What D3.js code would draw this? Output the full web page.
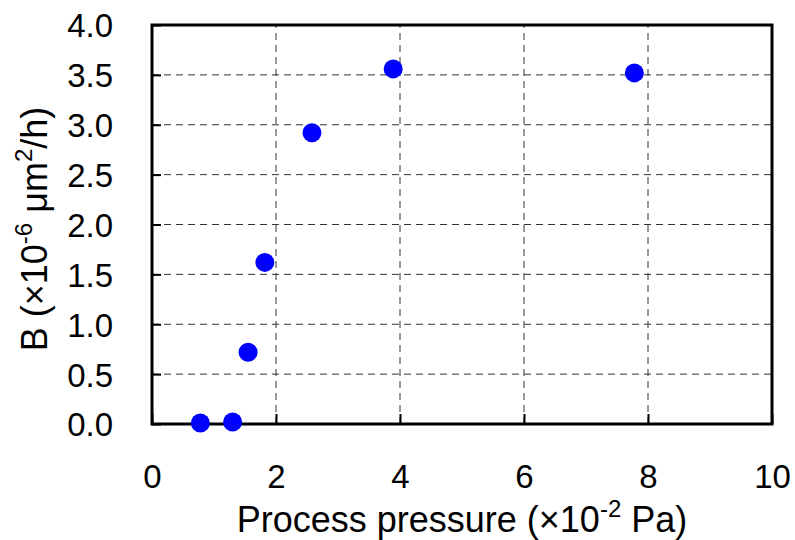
<!DOCTYPE html>
<html><head><meta charset="utf-8">
<script src="https://cdn.jsdelivr.net/npm/d3@7"></script>
<style>body{margin:0;background:#fff}svg{display:block}text{font-family:"Liberation Sans",Arial,sans-serif;fill:#000}</style>
</head><body>
<script>
const pressure = [0.78, 1.30, 1.55, 1.82, 2.58, 3.89, 7.78];
const bValues  = [0.01, 0.02, 0.72, 1.62, 2.92, 3.56, 3.52];
const xTicks = [0, 2, 4, 6, 8, 10];
const yTicks = [0, 0.5, 1.0, 1.5, 2.0, 2.5, 3.0, 3.5, 4.0];

const W = 795, H = 540;
const m = {left:152, right:23, top:25, bottom:116};
const svg = d3.select("body").append("svg").attr("width", W).attr("height", H);
const x = d3.scaleLinear().domain([0, 10]).range([m.left, W - m.right]);
const y = d3.scaleLinear().domain([0, 4]).range([H - m.bottom, m.top]);

// grid
svg.append("g").selectAll("line").data(xTicks.slice(1, -1)).join("line")
  .attr("x1", d => x(d)).attr("x2", d => x(d)).attr("y1", y(0)).attr("y2", y(4))
  .attr("stroke", "#333").attr("stroke-width", 1).attr("stroke-dasharray", "7,5");
svg.append("g").selectAll("line").data(yTicks.slice(1, -1)).join("line")
  .attr("y1", d => y(d)).attr("y2", d => y(d)).attr("x1", x(0)).attr("x2", x(10))
  .attr("stroke", "#333").attr("stroke-width", 1).attr("stroke-dasharray", "7,5");

// axes with inward ticks
const xAxis = svg.append("g").attr("transform", `translate(0,${y(0)})`)
  .call(d3.axisBottom(x).tickValues(xTicks).tickSize(-10).tickPadding(64).tickFormat(d3.format("d")));
const yAxis = svg.append("g").attr("transform", `translate(${x(0)},0)`)
  .call(d3.axisLeft(y).tickValues(yTicks).tickSize(-9).tickPadding(39).tickFormat(d3.format(".1f")));
[xAxis, yAxis].forEach(a => {
  a.select(".domain").remove();
  a.selectAll(".tick line").attr("stroke", "#000").attr("stroke-width", 2);
  a.selectAll(".tick text").attr("font-size", 33).attr("font-family", '"Liberation Sans",Arial,sans-serif').attr("fill", "#000");
});
yAxis.selectAll(".tick text").attr("dy", "0.36em");
xAxis.selectAll(".tick text").attr("dy", "0");

// frame
svg.append("rect").attr("x", x(0)).attr("y", y(4)).attr("width", x(10) - x(0)).attr("height", y(0) - y(4))
  .attr("fill", "none").attr("stroke", "#000").attr("stroke-width", 3);

// points
svg.append("g").selectAll("circle").data(pressure.map((p, i) => [p, bValues[i]])).join("circle")
  .attr("cx", d => x(d[0])).attr("cy", d => y(d[1])).attr("r", 9.5).attr("fill", "#0000ff");

// x title
const xt = svg.append("text").attr("x", (x(0) + x(10)) / 2).attr("y", 532).attr("text-anchor", "middle").attr("font-size", 36);
xt.append("tspan").text("Process pressure (\u00d710");
xt.append("tspan").attr("font-size", 24).attr("dy", -15).text("-2");
xt.append("tspan").attr("dy", 15).text(" Pa)");

// y title
const yt = svg.append("text").attr("transform", `translate(47,229) rotate(-90)`).attr("text-anchor", "middle").attr("font-size", 36);
yt.append("tspan").text("B (\u00d710");
yt.append("tspan").attr("font-size", 24).attr("dy", -15).text("-6");
yt.append("tspan").attr("dy", 15).text(" \u03bcm");
yt.append("tspan").attr("font-size", 24).attr("dy", -15).text("2");
yt.append("tspan").attr("dy", 15).text("/h)");
</script>
</body></html>
